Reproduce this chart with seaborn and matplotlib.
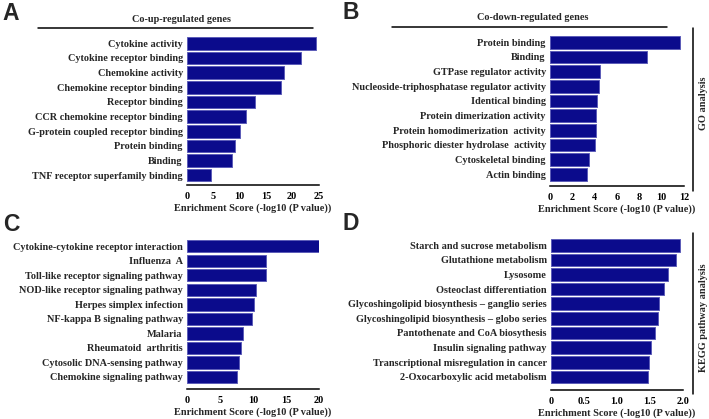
import matplotlib
matplotlib.use('Agg')
import matplotlib.pyplot as plt
from matplotlib.lines import Line2D
import seaborn as sns

# GO terms, co-up-regulated genes
go_up_terms = ['Cytokine activity', 'Cytokine receptor binding', 'Chemokine activity',
               'Chemokine receptor binding', 'Receptor binding', 'CCR chemokine receptor binding',
               'G-protein coupled receptor binding', 'Protein binding', 'Binding',
               'TNF receptor superfamily binding']
go_up_scores = [24.6, 21.7, 18.5, 17.8, 12.9, 11.3, 10.0, 9.2, 8.5, 4.5]

# GO terms, co-down-regulated genes
go_down_terms = ['Protein binding', 'Binding', 'GTPase regulator activity',
                 'Nucleoside-triphosphatase regulator activity', 'Identical binding',
                 'Protein dimerization activity', 'Protein homodimerization  activity',
                 'Phosphoric diester hydrolase  activity', 'Cytoskeletal binding', 'Actin binding']
go_down_scores = [11.6, 8.7, 4.5, 4.35, 4.2, 4.15, 4.1, 4.0, 3.5, 3.3]

# KEGG pathways, co-up-regulated genes
kegg_up_terms = ['Cytokine-cytokine receptor interaction', 'Influenza  A',
                 'Toll-like receptor signaling pathway', 'NOD-like receptor signaling pathway',
                 'Herpes simplex infection', 'NF-kappa B signaling pathway', 'Malaria',
                 'Rheumatoid  arthritis', 'Cytosolic DNA-sensing pathway',
                 'Chemokine signaling pathway']
kegg_up_scores = [20.2, 12.0, 11.9, 10.4, 10.2, 9.8, 8.5, 8.2, 7.9, 7.6]

# KEGG pathways, co-down-regulated genes
kegg_down_terms = ['Starch and sucrose metabolism', 'Glutathione metabolism', 'Lysosome',
                   'Osteoclast differentiation',
                   'Glycoshingolipid biosynthesis \u2013 ganglio series',
                   'Glycoshingolipid biosynthesis \u2013 globo series',
                   'Pantothenate and CoA biosythesis', 'Insulin signaling pathway',
                   'Transcriptional misregulation in cancer', '2-Oxocarboxylic acid metabolism']
kegg_down_scores = [1.955, 1.895, 1.78, 1.71, 1.63, 1.62, 1.57, 1.52, 1.48, 1.47]

W, H = 709, 419
BAR = '#0b0b8c'
EDGE = '#5c5cb8'
XLABEL = 'Enrichment Score (-log10 (P value))'

sns.set_style('white')
plt.rcParams['font.family'] = ['Liberation Serif', 'DejaVu Serif']
plt.rcParams['font.weight'] = 'bold'
plt.rcParams['font.size'] = 7.4

fig = plt.figure(figsize=(W / 100, H / 100), dpi=100)


def px_axes(x0, y0, x1, y1):
    return fig.add_axes([x0 / W, 1 - y1 / H, (x1 - x0) / W, (y1 - y0) / H])


def bar_panel(ax, terms, scores, xmax, ticks, ticklabels, ybottom):
    sns.barplot(x=scores, y=terms, orient='h', color=BAR, edgecolor=EDGE,
                linewidth=0.7, width=0.86, saturation=1, ax=ax)
    ax.set_xlim(0, xmax)
    ax.set_ylim(ybottom, -0.43)
    ax.set_xticks(ticks)
    ax.set_xticklabels(ticklabels, fontweight='bold')
    ax.set_ylabel('')
    ax.set_xlabel(XLABEL, fontweight='bold', labelpad=1.5)
    for side in ['left', 'top', 'right']:
        ax.spines[side].set_visible(False)
    ax.spines['bottom'].set_linewidth(1.1)
    ax.spines['bottom'].set_color('black')
    ax.tick_params(axis='x', direction='out', length=3.5, width=1.0, pad=1.5, colors='black')
    ax.tick_params(axis='y', length=0, pad=3)
    for lab in ax.get_yticklabels():
        lab.set_fontweight('bold')
    ax.patch.set_alpha(0)


ax_a = px_axes(187, 37, 318.5, 185)
bar_panel(ax_a, go_up_terms, go_up_scores, 25, [0, 5, 10, 15, 20, 25],
          ['0', '5', '10', '15', '20', '25'], 9.67)

ax_b = px_axes(550, 36, 684, 186)
bar_panel(ax_b, go_down_terms, go_down_scores, 12, [0, 2, 4, 6, 8, 10, 12],
          ['0', '2', '4', '6', '8', '10', '12'], 9.8)

ax_c = px_axes(187, 240, 319, 389)
bar_panel(ax_c, kegg_up_terms, kegg_up_scores, 20, [0, 5, 10, 15, 20],
          ['0', '5', '10', '15', '20'], 9.84)

ax_d = px_axes(551, 239, 683, 390)
bar_panel(ax_d, kegg_down_terms, kegg_down_scores, 2.0, [0, 0.5, 1.0, 1.5, 2.0],
          ['0', '0.5', '1.0', '1.5', '2.0'], 9.9)

# group titles with underline
fig.text(181 / W, 1 - 19 / H, 'Co-up-regulated genes', ha='center', va='center',
         fontweight='bold')
fig.add_artist(Line2D([38 / W, 313 / W], [1 - 28 / H, 1 - 28 / H], color='black', lw=1.1))
fig.text(533 / W, 1 - 18 / H, 'Co-down-regulated genes', ha='center', va='center',
         fontweight='bold')
fig.add_artist(Line2D([392 / W, 667 / W], [1 - 27 / H, 1 - 27 / H], color='black', lw=1.1))

# side brackets
fig.add_artist(Line2D([693 / W, 693 / W], [1 - 28 / H, 1 - 191 / H], color='black', lw=1.1))
fig.text(703 / W, 1 - 103 / H, 'GO analysis', rotation=90, ha='center', va='center',
         fontweight='bold')
fig.add_artist(Line2D([693 / W, 693 / W], [1 - 233 / H, 1 - 394 / H], color='black', lw=1.1))
fig.text(703 / W, 1 - 318 / H, 'KEGG pathway analysis', rotation=90, ha='center',
         va='center', fontweight='bold')

# panel letters
for letter, x, y in [('A', 2, 2), ('B', 342, 1), ('C', 3, 213), ('D', 342, 212)]:
    fig.text(x / W, 1 - y / H, letter, ha='left', va='top', fontsize=16.5,
             fontweight='bold', family=['Liberation Sans', 'DejaVu Sans'])

fig.savefig('out.png', dpi=100)
